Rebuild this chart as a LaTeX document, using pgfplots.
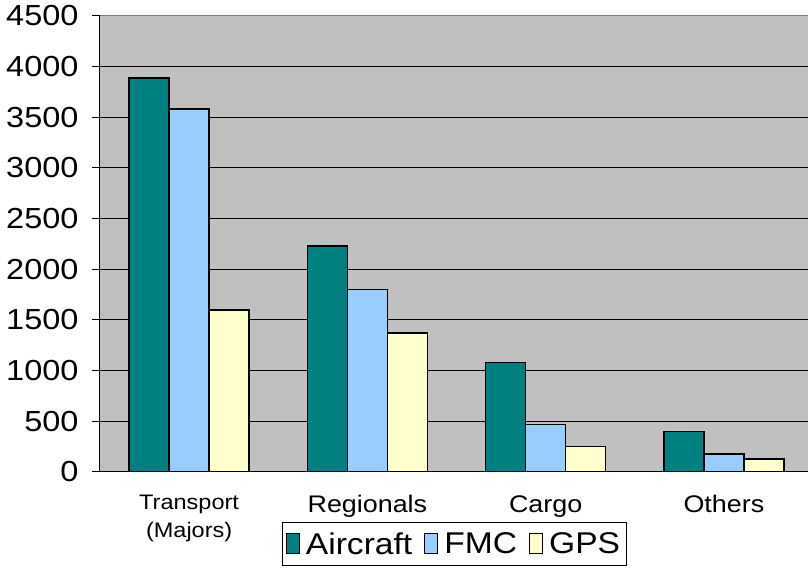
\documentclass[border=0pt]{standalone}
\usepackage{pgfplots}
\pgfplotsset{compat=1.18}
\usepackage{fontspec}
\setmainfont{Liberation Sans}[FakeStretch=1.12]
\definecolor{acTeal}{RGB}{0,128,128}
\definecolor{acBlue}{RGB}{153,204,255}
\definecolor{acYellow}{RGB}{255,255,204}
\definecolor{bgGray}{RGB}{192,192,192}

\begin{document}
\begin{tikzpicture}
\begin{axis}[
    scale only axis,
    width=708pt, height=456pt,
    xmin=-0.5, xmax=3.472,
    ymin=0, ymax=4500,
    axis background/.style={fill=bgGray},
    axis x line*=bottom, axis y line*=left,
    axis line style={-, black, line width=1pt},
    ybar=0pt, bar width=40pt,
    xtick={0,1,2,3},
    xticklabels={{\fontsize{21}{35}\selectfont Transport\\\fontsize{21}{35}\selectfont (Majors)}, Regionals, Cargo, Others},
    xtick style={draw=none},
    xticklabel style={align=center, yshift=-12pt, font=\fontsize{24}{28}\selectfont},
    ytick={0,500,...,4000},
    extra y ticks={4500},
    extra y tick style={major grid style={color=gray, line width=1pt}},
    ymajorgrids,
    grid style={black, line width=1pt},
    tick align=outside, major tick length=8pt,
    ytick style={black, line width=1pt},
    yticklabel style={font=\fontsize{29}{32}\selectfont, xshift=-10pt},
    /pgf/number format/assume math mode=true,
    /pgf/number format/1000 sep={},
    legend style={at={(0.5,-0.1096)}, anchor=north, legend columns=-1,
        draw=black, line width=0.8pt, fill=white,
        inner xsep=4pt, inner ysep=8pt,
        font=\fontsize{30}{34}\selectfont,
        /tikz/every odd column/.append style={column sep=4pt},
        /tikz/every even column/.append style={column sep=10pt}},
    legend image code/.code={\draw[#1, line width=1pt] (0pt,-10pt) rectangle (13pt,10pt);},
]
\addplot[fill=acTeal, draw=black, line width=1.5pt] coordinates {(0,3890) (1,2230) (2,1080) (3,400)};
\addplot[fill=acBlue, draw=black, line width=1.5pt] coordinates {(0,3580) (1,1800) (2,470) (3,180)};
\addplot[fill=acYellow, draw=black, line width=1.5pt] coordinates {(0,1600) (1,1370) (2,250) (3,130)};
\legend{Aircraft, FMC, GPS}
\end{axis}
\pgfresetboundingbox
\path[use as bounding box] (-100pt,-97pt) rectangle (708pt,472pt);
\end{tikzpicture}
\end{document}
